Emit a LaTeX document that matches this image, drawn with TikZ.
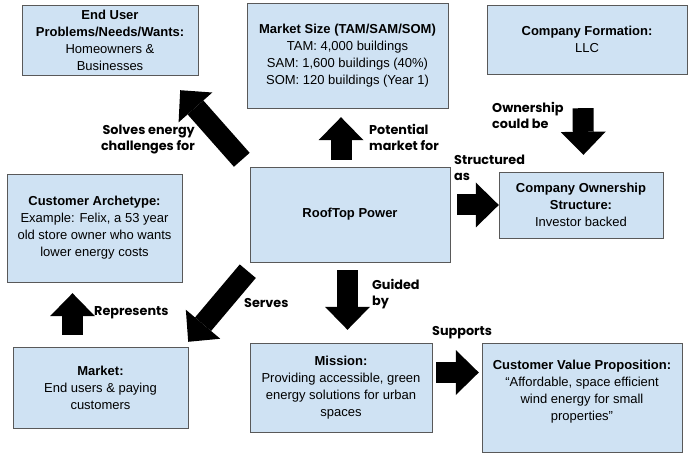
\documentclass[tikz,border=0pt]{standalone}
\usepackage{fontspec}
\setmainfont{Liberation Sans}
\newfontfamily\tagfont{Poppins}
\usetikzlibrary{arrows.meta, positioning}
\definecolor{boxblue}{RGB}{207, 226, 243}
\definecolor{boxline}{RGB}{89, 89, 89}

\begin{document}
\begin{tikzpicture}[
  x=1pt, y=-1pt,
  box/.style={draw=boxline, fill=boxblue, align=center, inner sep=0pt, font=\fontsize{13}{17}\selectfont},
  bigarrow/.style={-{Triangle[width=45pt, length=23pt, line width=0pt]}, line width=21pt, black},
  tag/.style={font=\tagfont\bfseries\fontsize{12.8}{16}\selectfont, inner sep=0pt}
]
  \useasboundingbox (0,0) rectangle (689,468);

  % Boxes
  \node[box, minimum width=176pt, minimum height=70pt] (enduser) at (110,40)
    {\textbf{End User}\\ \textbf{Problems/Needs/Wants:}\\ Homeowners \&\\ Businesses};
  \node[box, minimum width=201pt, minimum height=105pt] (marketsize) at (347.5,55.5)
    {\textbf{Market Size (TAM/SAM/SOM)}\\ TAM: 4,000 buildings\\ SAM: 1,600 buildings (40\%)\\ SOM: 120 buildings (Year 1)};
  \node[box, minimum width=200pt, minimum height=69pt] (formation) at (587,39.5)
    {\textbf{Company Formation:}\\ LLC};
  \node[box, minimum width=175pt, minimum height=108pt] (archetype) at (94.5,228)
    {\textbf{Customer Archetype:}\\ Example: Felix, a 53 year\\ old store owner who wants\\ lower energy costs};
  \node[box, minimum width=200pt, minimum height=95pt] (rooftop) at (350,214.5)
    {\textbf{RoofTop Power}};
  \node[box, minimum width=164pt, minimum height=66pt] (ownership) at (581,205)
    {\textbf{Company Ownership}\\ \textbf{Structure:}\\ Investor backed};
  \node[box, minimum width=175pt, minimum height=81pt] (market) at (100.5,387.5)
    {\textbf{Market:}\\ End users \& paying\\ customers};
  \node[box, minimum width=182pt, minimum height=89pt] (mission) at (341,387.5)
    {\textbf{Mission:}\\ Providing accessible, green\\ energy solutions for urban\\ spaces};
  \node[box, minimum width=200pt, minimum height=109pt] (value) at (582,397.5)
    {\textbf{Customer Value Proposition:}\\ “Affordable, space efficient\\ wind energy for small\\ properties”\\[-2pt] \mbox{}};

  % Arrows
  \draw[bigarrow] ([shift={(-8,-7)}]rooftop.north west) -- ([shift={(-18,15)}]enduser.south east);
  \draw[bigarrow] ([shift={(-9,-7)}]rooftop.north) -- ([shift={(-6.5,9)}]marketsize.south);
  \draw[bigarrow] ([shift={(-4,34)}]formation.south) -- ([shift={(2.5,-17)}]ownership.north);
  \draw[bigarrow] ([shift={(7,-9.5)}]rooftop.east) -- (ownership.west);
  \draw[bigarrow] ([shift={(-2.5,8)}]rooftop.south) -- ([shift={(6.5,-13)}]mission.north);
  \draw[bigarrow] ([shift={(-2,9)}]rooftop.south west) -- ([shift={(0,-5)}]market.north east);
  \draw[bigarrow] ([shift={(-28,-12)}]market.north) -- ([shift={(-22,11)}]archetype.south);
  \draw[bigarrow] ([shift={(4,-15)}]mission.east) -- ([shift={(-3,-25)}]value.west);

  % Arrow labels
  \node[tag, anchor=east, align=right] (solves) at (195,140) {Solves energy\\ challenges for};
  \node[tag, anchor=west, align=left] (potential) at (369,137) {Potential\\ market for};
  \node[tag, anchor=west, align=left] (couldbe) at (492,115) {Ownership\\ could be};
  \node[tag, anchor=west, align=left] (structured) at (454,168) {Structured\\ as};
  \node[tag, anchor=west, align=left] (guided) at (372,294) {Guided\\ by};
  \node[tag, anchor=west] (serves) at (244,303) {Serves};
  \node[tag, anchor=west] (represents) at (94,313) {Represents};
  \node[tag, anchor=west] (supports) at (432,333) {Supports};
\end{tikzpicture}
\end{document}
